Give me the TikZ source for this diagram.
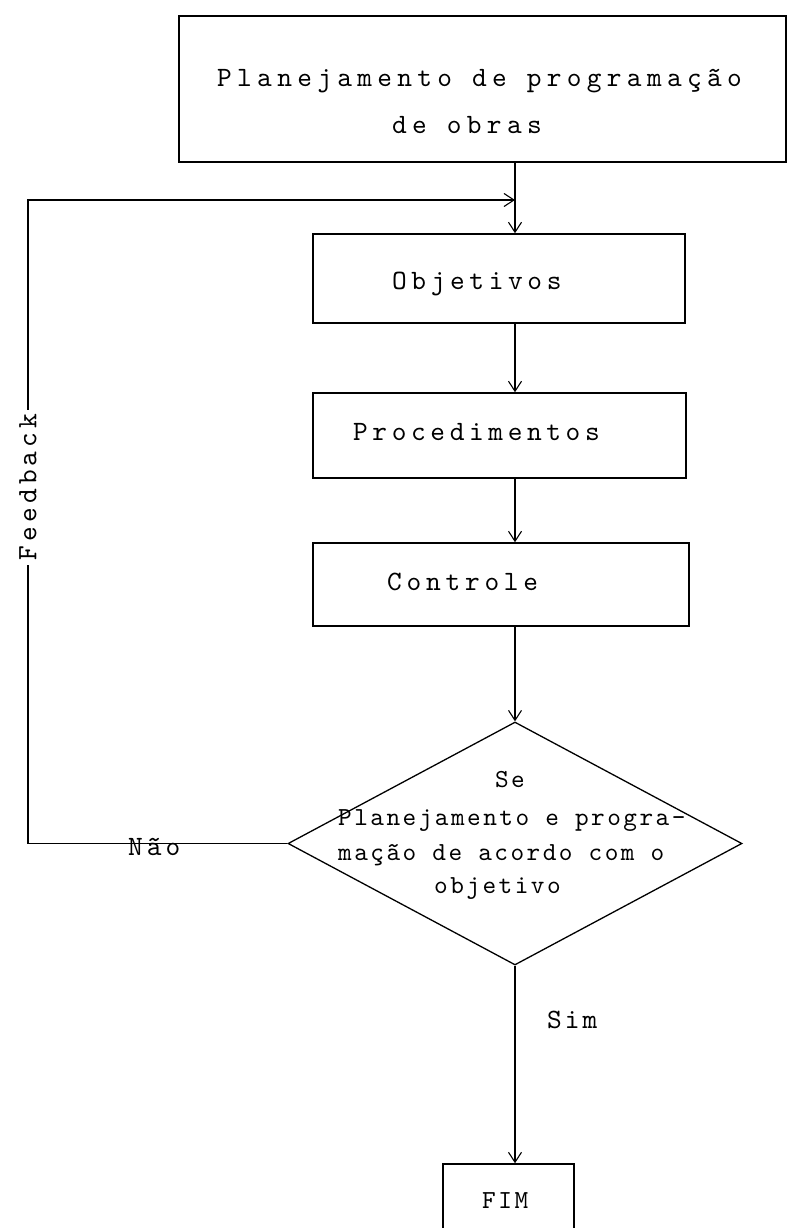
\documentclass[tikz,border=0pt]{standalone}
\usepackage{fontspec}
\usetikzlibrary{arrows.meta,shapes.geometric}
% typewriter face used for every label
\newfontfamily\tw[Extension=.otf]{lmmono10-regular}
\newcommand{\typed}[2]{\fontsize{#1}{#1}\selectfont\addfontfeature{LetterSpace=#2}}

\tikzset{
  x=1pt, y=-1pt,
  box/.style={draw, line width=1.5pt, inner sep=0pt, minimum width=#1},
  label/.style={inner sep=0pt, anchor=base west, font=\tw},
  flow/.style={line width=1.1pt, -{Straight Barb[length=10pt,width=13pt,line width=1.1pt]}},
}

\begin{document}
\begin{tikzpicture}
\clip (0,0) rectangle (789,1228);
\fill[white] (0,0) rectangle (789,1228);

% boxes
\node[box=607pt, minimum height=146pt] (top) at (482.5,89) {};
\node[box=372pt, minimum height=89pt] (obj) at (499,278.5) {};
\node[box=373pt, minimum height=85pt] (proc) at (499.5,435.5) {};
\node[box=376pt, minimum height=83pt] (ctrl) at (501,584.5) {};
\node[draw, line width=1.3pt, diamond, inner sep=0pt, minimum width=454pt, minimum height=243pt] (dia) at (515,843.5) {};
\node[box=131pt, minimum height=150pt] (fim) at (508.5,1239) {};

% texts
\node[label] (t1) at (217,87) {\typed{28}{19}Planejamento de programação};
\node[label] (t2) at (392,133) {\typed{28}{19}de obras};
\node[label] (tobj) at (392,289) {\typed{28}{16.5}Objetivos};
\node[label] (tproc) at (353,440) {\typed{28}{16.5}Procedimentos};
\node[label] (tctrl) at (387,590) {\typed{28}{17}Controle};
\node[label, anchor=base] (tse) at (510,787) {\typed{26}{9.5}Se};
\node[label] (td1) at (338,825) {\typed{26}{9.5}Planejamento e progra-};
\node[label] (td2) at (338,860) {\typed{26}{9.5}mação de acordo com o};
\node[label] (td3) at (434,893) {\typed{26}{9.5}objetivo};
\node[label] (tfim) at (482,1208) {\typed{26}{10}FIM};
\node[label] (tsim) at (547,1028) {\typed{28}{11}Sim};
\node[label] (tnao) at (128,855) {\typed{28}{14.5}Não};

% main axis
\coordinate (axis) at (515,0);
\coordinate (fb) at (515,200);
\coordinate (fbcorner) at (28,200);

\draw[flow] (top.south -| axis) -- (obj.north -| axis);
\draw[flow] (obj.south -| axis) -- (proc.north -| axis);
\draw[flow] (proc.south -| axis) -- (ctrl.north -| axis);
\draw[flow] (ctrl.south -| dia.north) -- (dia.north);
\draw[flow] (dia.south) -- (fim.north -| dia.south);

% feedback loop
\draw[flow] (dia.west) -| (fbcorner) -- (fb);
\node[font=\tw, fill=white, inner xsep=4pt, inner ysep=2pt, rotate=90] (tfeed) at (28,487) {\typed{28}{15}Feedback};
\end{tikzpicture}
\end{document}
